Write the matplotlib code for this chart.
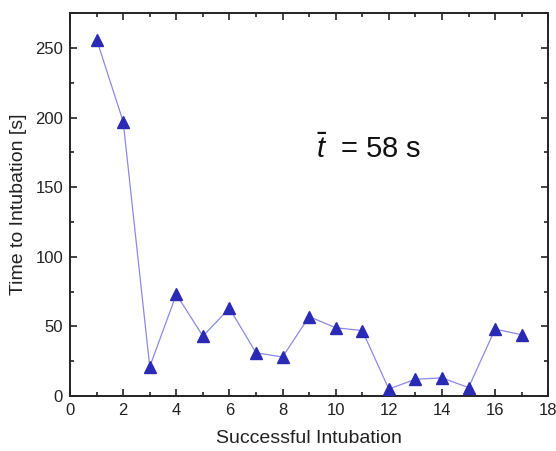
import numpy as np
import matplotlib
matplotlib.use("Agg")
import matplotlib.pyplot as plt
from matplotlib.ticker import MultipleLocator

plt.rcParams['font.family'] = ['Liberation Sans', 'DejaVu Sans']
plt.rcParams['mathtext.fontset'] = 'custom'
plt.rcParams['mathtext.it'] = 'Liberation Sans:italic'

# data
intubation = list(range(1, 18))
time_s = [256, 197, 21, 73, 43, 63, 31, 28, 57, 49, 47, 5, 12, 13, 6, 48, 44]
mean_label = r"$\bar{t}$  = 58 s"

fig = plt.figure(figsize=(5.56, 4.51), dpi=100)
ax = fig.add_axes([0.126, 0.122, 0.86, 0.849])

ax.plot(intubation, time_s, color='#8a8ae6', linewidth=0.9, zorder=2)
ax.plot(intubation, time_s, linestyle='none', marker='^', markersize=8,
        color='#2a2ab4', zorder=3)

ax.set_xlim(0, 18)
ax.set_ylim(0, 275)
ax.xaxis.set_major_locator(MultipleLocator(2))
ax.xaxis.set_minor_locator(MultipleLocator(1))
ax.yaxis.set_major_locator(MultipleLocator(50))
ax.yaxis.set_minor_locator(MultipleLocator(25))
ax.tick_params(which='both', direction='in', top=True, right=True,
               width=1.2, labelsize=12, pad=5, color='#222222', labelcolor='#222222')
ax.tick_params(which='major', length=5)
ax.tick_params(which='minor', length=3)
for s in ax.spines.values():
    s.set_linewidth(1.4)
    s.set_color('#222222')

ax.set_xlabel('Successful Intubation', fontsize=14, color='#222222', labelpad=9)
ax.set_ylabel('Time to Intubation [s]', fontsize=14, color='#222222', labelpad=6)

ax.text(0.515, 0.645, mean_label, transform=ax.transAxes, fontsize=21,
        color='#111111', va='center', ha='left')

fig.savefig('out.png', dpi=100)
